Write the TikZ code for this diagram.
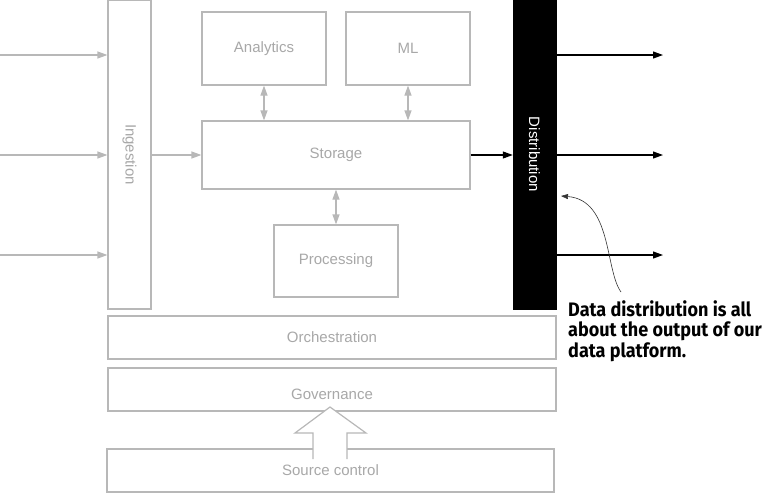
\documentclass[tikz,border=0pt]{standalone}
\usepackage{fontspec}
\setmainfont{Liberation Sans}
\newfontfamily\calloutfont[FakeStretch=0.925]{Fira Sans}
\usetikzlibrary{arrows.meta,shapes.arrows}
\definecolor{boxgray}{HTML}{B8B8B8}
\definecolor{txtgray}{HTML}{A8A8A8}
\tikzset{
  gbox/.style={draw=boxgray, line width=1.2pt, fill=white, text=txtgray, font=\fontsize{15}{18}\selectfont, inner sep=0pt},
  garrow/.style={draw=boxgray, line width=1.2pt, -{Triangle[length=10pt,width=7pt]}},
  gdarrow/.style={draw=boxgray, line width=1.2pt, {Triangle[length=10pt,width=7pt]}-{Triangle[length=10pt,width=7pt]}},
  barrow/.style={draw=black, line width=1.1pt, -{Triangle[length=10pt,width=7pt]}},
}
\begin{document}
\begin{tikzpicture}[x=1pt,y=-1pt]
\useasboundingbox (0,0) rectangle (766,493);
% boxes
\node[gbox, minimum width=43pt, minimum height=309pt] (ing) at (129.5,154.5) {};
\node[text=txtgray, font=\fontsize{15}{18}\selectfont, rotate=-90] at (ing.center) {Ingestion};
\node[gbox, minimum width=124pt, minimum height=73pt] (ana) at (264,48.5) {Analytics};
\node[gbox, minimum width=124pt, minimum height=73pt] (ml) at (408,48.5) {ML};
\node[gbox, minimum width=268pt, minimum height=68pt] (sto) at (336,155) {Storage};
\node[gbox, minimum width=124pt, minimum height=72pt] (pro) at (336,261) {Processing};
\node[draw=black, fill=black, minimum width=43pt, minimum height=309pt, inner sep=0pt] (dis) at (534.5,154.5) {};
\node[text=white, font=\fontsize{15}{18}\selectfont, rotate=-90] at (dis.center) {Distribution};
\node[gbox, minimum width=448pt, minimum height=43pt] (orc) at (332,337.5) {Orchestration};
\node[gbox, minimum width=448pt, minimum height=43pt] (gov) at (332,389.5) {};
\node[gbox, minimum width=447pt, minimum height=43pt] (src) at (330.5,470.5) {};
% big hollow arrow
\draw[boxgray, line width=1.2pt, fill=white]
  (313,459) -- (313,433) -- (295,433) -- (330,407) -- (366,433) -- (347,433) -- (347,459);
\node[text=txtgray, font=\fontsize{15}{18}\selectfont] (govt) at (332,394) {Governance};
\node[text=txtgray, font=\fontsize{15}{18}\selectfont] (srct) at (330.5,470) {Source control};
% input arrows
\coordinate (in1) at (0,55);
\coordinate (in2) at (0,155);
\coordinate (in3) at (0,255);
\draw[garrow] (in1) -- (in1 -| ing.west);
\draw[garrow] (in2) -- (in2 -| ing.west);
\draw[garrow] (in3) -- (in3 -| ing.west);
\draw[garrow] (ing.east |- sto.west) -- (sto.west);
\draw[gdarrow] (ana.south) -- (ana.south |- sto.north);
\draw[gdarrow] (ml.south) -- (ml.south |- sto.north);
\draw[gdarrow] (sto.south) -- (pro.north);
\draw[barrow] (sto.east) -- (dis.west |- sto.east);
% outputs
\coordinate (o1) at (663,55);
\coordinate (o2) at (663,155);
\coordinate (o3) at (663,255);
\draw[barrow] (dis.east |- o1) -- (o1);
\draw[barrow] (dis.east |- o2) -- (o2);
\draw[barrow] (dis.east |- o3) -- (o3);
% callout
\node[anchor=north west, align=left, inner sep=0pt, font=\calloutfont\bfseries\fontsize{19.5}{20.5}\selectfont] (call) at (568,300)
  {Data distribution is all\\about the output of our\\data platform.};
\coordinate (ctip) at (561,196);
\draw[black!80, line width=0.6pt, -{Triangle[length=7pt,width=5pt]}] (621,292) .. controls (605,270) and (612,200) .. (ctip);
\end{tikzpicture}
\end{document}
